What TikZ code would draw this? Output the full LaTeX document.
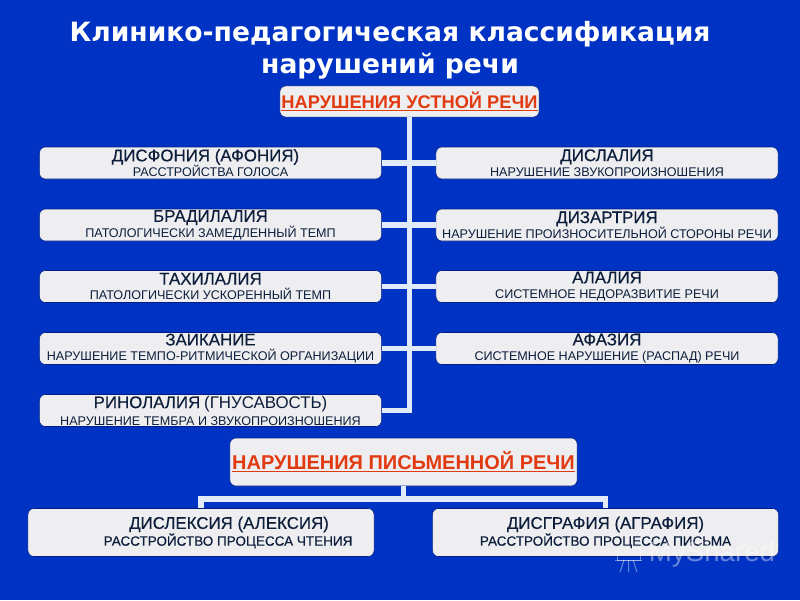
\documentclass[tikz,border=0pt]{standalone}
\usepackage{fontspec}
\setmainfont{Liberation Sans}
\newfontfamily\titlefont{DejaVu Sans}
\newfontfamily\headfont{Liberation Sans}[FakeBold=0.35]
\definecolor{slideblue}{RGB}{0,51,196}
\definecolor{boxgrey}{RGB}{238,238,240}
\definecolor{edgeblue}{RGB}{0,30,130}
\definecolor{linewhite}{RGB}{226,235,250}
\definecolor{inkdark}{RGB}{12,30,60}
\definecolor{headred}{RGB}{226,58,16}
\newcommand{\hd}[1]{{\headfont\fontsize{12pt}{12pt}\selectfont #1}}
\newcommand{\sbt}[1]{{\fontsize{8.95pt}{9pt}\selectfont #1}}
\newcommand{\sbl}[1]{{\headfont\fontsize{9.6pt}{9pt}\selectfont #1}}
\tikzset{
  diagbox/.style={fill=boxgrey, draw=edgeblue, line width=0.4pt, rounded corners=0.15cm,
    align=center, inner sep=0pt, text=inkdark},
  rowbox/.style={diagbox, minimum width=8.55cm, minimum height=0.8cm},
  lowbox/.style={diagbox, minimum width=8.65cm, minimum height=1.2cm},
  linkline/.style={draw=linewhite, line width=3.6pt},
  headtext/.style={text=headred, font=\bfseries},
  markpart/.style={draw=white, opacity=0.4, line width=0.7pt}
}
\usetikzlibrary{positioning}

\begin{document}
\begin{tikzpicture}[x=0.025cm,y=-0.025cm]
  \useasboundingbox (0,0) rectangle (800,600);
  \fill[slideblue] (0,0) rectangle (800,600);

  % title
  \node (title) at (390,50) [align=center, text=white, font=\titlefont\bfseries\fontsize{18.9pt}{23pt}\selectfont]
    {Клинико-педагогическая классификация\\нарушений речи};

  % oral column
  \node [diagbox, headtext, minimum width=6.48cm, minimum height=0.78cm] (oral) at (409.5,101.5)
    {\underline{\fontsize{13pt}{12pt}\selectfont НАРУШЕНИЯ УСТНОЙ РЕЧИ}};

  \node [rowbox] (dysph) at (210.5,163) {\hd{ДИСФОНИЯ (АФОНИЯ)}\hspace*{0.25cm}\\[-1pt]\sbt{РАССТРОЙСТВА ГОЛОСА}};
  \node [rowbox] (brady) at (210.5,225) {\hd{БРАДИЛАЛИЯ}\\[-1pt]\sbt{ПАТОЛОГИЧЕСКИ ЗАМЕДЛЕННЫЙ ТЕМП}};
  \node [rowbox] (tachy) at (210.5,286.5) {\hd{ТАХИЛАЛИЯ}\\[-1pt]\sbt{ПАТОЛОГИЧЕСКИ УСКОРЕННЫЙ ТЕМП}};
  \node [rowbox] (stutt) at (210.5,348.5) {\hd{ЗАИКАНИЕ}\\[-1pt]\sbt{НАРУШЕНИЕ ТЕМПО-РИТМИЧЕСКОЙ ОРГАНИЗАЦИИ}};
  \node [rowbox] (rhino) at (210.5,410.5) {\hd{РИНОЛАЛИЯ} {\fontsize{12pt}{12pt}\selectfont(ГНУСАВОСТЬ)}\\[0pt]\sbt{НАРУШЕНИЕ ТЕМБРА И ЗВУКОПРОИЗНОШЕНИЯ}};

  \node [rowbox] (dysl) at (607,163) {\hd{ДИСЛАЛИЯ}\\[-1pt]\sbt{НАРУШЕНИЕ ЗВУКОПРОИЗНОШЕНИЯ}};
  \node [rowbox] (dysar) at (607,225) {\hd{ДИЗАРТРИЯ}\\[-1pt]\sbt{НАРУШЕНИЕ ПРОИЗНОСИТЕЛЬНОЙ СТОРОНЫ РЕЧИ}};
  \node [rowbox] (alal) at (607,286.5) {\hd{АЛАЛИЯ}\\[-1pt]\sbt{СИСТЕМНОЕ НЕДОРАЗВИТИЕ РЕЧИ}};
  \node [rowbox] (aphas) at (607,348.5) {\hd{АФАЗИЯ}\\[-1pt]\sbt{СИСТЕМНОЕ НАРУШЕНИЕ (РАСПАД) РЕЧИ}};

  % written part
  \node [diagbox, headtext, minimum width=8.68cm, minimum height=1.2cm] (writ) at (403.5,462)
    {\underline{\fontsize{14.2pt}{12pt}\selectfont НАРУШЕНИЯ ПИСЬМЕННОЙ РЕЧИ}};
  \node [lowbox] (dyslex) at (201,532.5) {\hspace*{1.4cm}\hd{ДИСЛЕКСИЯ (АЛЕКСИЯ)}\\[0pt]\hspace*{1.35cm}\sbl{РАССТРОЙСТВО ПРОЦЕССА ЧТЕНИЯ}};
  \node [lowbox] (dysgr) at (605.5,532.5) {\hd{ДИСГРАФИЯ (АГРАФИЯ)}\\[0pt]\sbl{РАССТРОЙСТВО ПРОЦЕССА ПИСЬМА}};

  \coordinate (wj) at (403.5,499);

  % links
  \draw [linkline] (oral.south) |- (rhino.east);
  \draw [linkline] (dysph.east) -- (dysl.west);
  \draw [linkline] (brady.east) -- (dysar.west);
  \draw [linkline] (tachy.east) -- (alal.west);
  \draw [linkline] (stutt.east) -- (aphas.west);
  \draw [linkline] (writ.south) -- (wj);
  \draw [linkline] (dyslex.north) |- (wj) -| (dysgr.north);

  % watermark
  \node (mark) at (712,554) [text=white, opacity=0.4, font=\fontsize{19.7pt}{22pt}\selectfont] {MyShared};
  \draw [markpart] (617,548) rectangle (640,560);
  \draw [markpart] (615,560) -- (642,560);
  \draw [markpart] (624,560) -- (620,572) (633,560) -- (637,572) (628.5,560) -- (628.5,572);
\end{tikzpicture}
\end{document}
